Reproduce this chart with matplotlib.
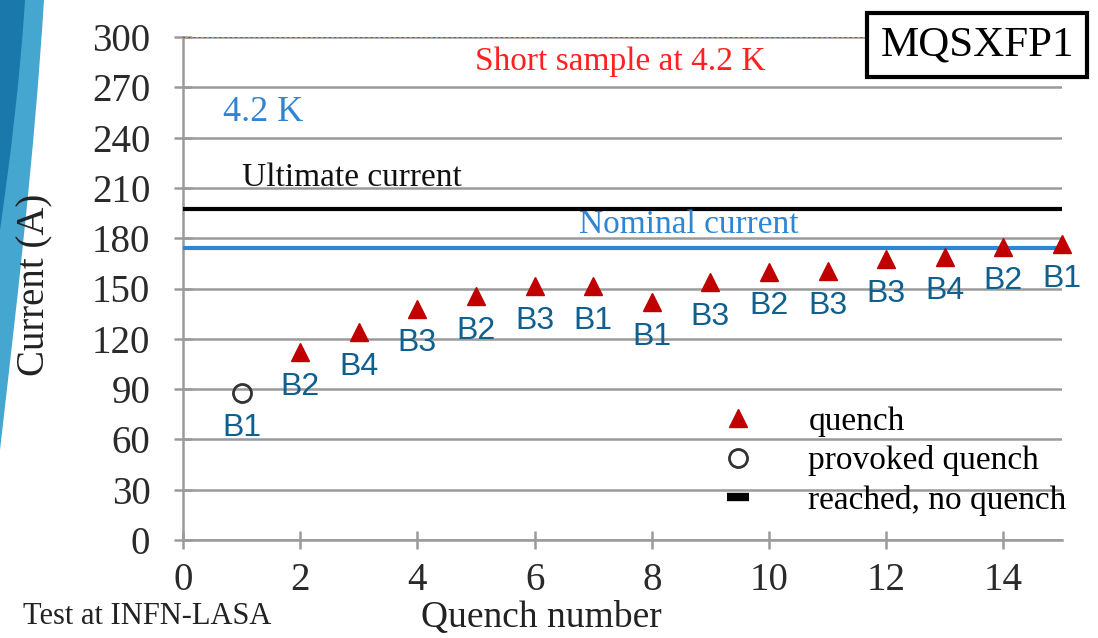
import numpy as np
import matplotlib
matplotlib.use("Agg")
import matplotlib.pyplot as plt
from matplotlib.lines import Line2D
from matplotlib.path import Path
from matplotlib.patches import PathPatch

# quench history of the magnet (quench number, current in A, block that quenched)
quench_no = [2, 3, 4, 5, 6, 7, 8, 9, 10, 11, 12, 13, 14, 15]
quench_current = [112, 124, 138, 145.5, 151.5, 151.5, 142, 154, 160, 160.5, 167.5, 169, 175, 176.5]
quench_block = ["B2", "B4", "B3", "B2", "B3", "B1", "B1", "B3", "B2", "B3", "B3", "B4", "B2", "B1"]

provoked_no = [1]
provoked_current = [87.5]
provoked_block = ["B1"]

short_sample = 300
ultimate_current = 197.5
nominal_current = 174

serif = "Liberation Serif"
sans = "Liberation Sans"
red = "#c00000"
blue_lbl = "#0f5f8f"
blue_line = "#2f85d3"

fig = plt.figure(figsize=(10.98, 6.38), dpi=100)

# slide decoration in the top left corner
bg = fig.add_axes([0, 0, 1, 1], zorder=-5)
bg.set_xlim(0, 1098)
bg.set_ylim(638, 0)
bg.axis("off")
C = Path.CURVE4
light = Path([(0, 0), (44, 0), (34, 160), (16, 310), (0, 450), (0, 0)],
             [Path.MOVETO, Path.LINETO, C, C, C, Path.CLOSEPOLY])
dark = Path([(0, 0), (25, 0), (20, 80), (10, 160), (0, 230), (0, 0)],
            [Path.MOVETO, Path.LINETO, C, C, C, Path.CLOSEPOLY])
bg.add_patch(PathPatch(light, fc="#45a6d0", ec="none"))
bg.add_patch(PathPatch(dark, fc="#1b78ab", ec="none"))

ax = fig.add_axes([183 / 1098, 1 - 540 / 638, (1062 - 183) / 1098, (540 - 37) / 638])
ax.set_xlim(0, 15)
ax.set_ylim(0, 300)
ax.set_xticks(np.arange(0, 15, 2))
ax.set_yticks(np.arange(0, 301, 30))
ax.yaxis.grid(True, color="#9a9a9a", lw=1.8)
ax.set_axisbelow(True)
for s in ["top", "right"]:
    ax.spines[s].set_visible(False)
for s in ["left", "bottom"]:
    ax.spines[s].set_color("#9a9a9a")
    ax.spines[s].set_linewidth(1.8)
ax.tick_params(direction="inout", length=13, width=1.8, color="#9a9a9a",
               labelsize=28, labelcolor="#2a2a2a")
ax.tick_params(axis="y", pad=17)
ax.tick_params(axis="x", pad=9)
for lbl in ax.get_xticklabels() + ax.get_yticklabels():
    lbl.set_fontfamily(serif)

# reference lines
ax.axhline(short_sample, color="#ff2020", lw=1.5, ls=(0, (1, 1.5)), zorder=3)
ax.axhline(ultimate_current, color="black", lw=3, zorder=3)
ax.axhline(nominal_current, color=blue_line, lw=3, zorder=3)

ax.text(7.47, 285, "Short sample at 4.2 K", color="#ff2020", fontsize=24,
        family=serif, ha="center", va="center")
ax.text(1.0, 211, "Ultimate current", color="#111111", fontsize=24,
        family=serif, ha="left", va="baseline")
ax.text(8.63, 183, "Nominal current", color=blue_line, fontsize=24,
        family=serif, ha="center", va="baseline")
ax.text(0.68, 255, "4.2 K", color=blue_line, fontsize=26, family=serif, ha="left", va="center")

# measured points
ax.plot(quench_no, quench_current, ls="none", marker="^", ms=13, color=red, clip_on=False, zorder=4)
ax.plot(provoked_no, provoked_current, ls="none", marker="o", ms=13, mfc="none",
        mec="#333333", mew=2, clip_on=False, zorder=4)
for x, y, b in zip(quench_no + provoked_no, quench_current + provoked_current,
                   quench_block + provoked_block):
    ax.annotate(b, (x, y), xytext=(0, -25), textcoords="offset points", ha="center",
                va="center", color=blue_lbl, fontsize=23, family=sans, annotation_clip=False)

handles = [
    Line2D([], [], ls="none", marker="^", ms=13, color=red),
    Line2D([], [], ls="none", marker="o", ms=13, mfc="none", mec="#333333", mew=2),
    Line2D([], [], ls="none", marker="_", ms=16, mec="black", mew=6),
]
ax.legend(handles, ["quench", "provoked quench", "reached, no quench"],
          loc="upper left", bbox_to_anchor=(705 / 1098, 1 - 390 / 638),
          bbox_transform=fig.transFigure, frameon=False, borderpad=0,
          handlelength=1.0, handletextpad=1.6, labelspacing=0.25,
          prop={"family": serif, "size": 24})

fig.text(977 / 1098, 1 - 45 / 638, "MQSXFP1", fontsize=31, family=serif, ha="center", va="center",
         bbox=dict(boxstyle="square,pad=0.3", fc="white", ec="black", lw=3))

fig.text(35 / 1098, 1 - 285 / 638, "Current (A)", rotation=90, fontsize=28, family=serif,
         color="#222222", ha="center", va="center")
fig.text(541 / 1098, 1 - 618 / 638, "Quench number", fontsize=27, family=serif,
         color="#222222", ha="center", va="center")
fig.text(23 / 1098, 1 - 617 / 638, "Test at INFN-LASA", fontsize=22, family=serif,
         color="#222222", ha="left", va="center")

fig.savefig("out.png", dpi=100)
